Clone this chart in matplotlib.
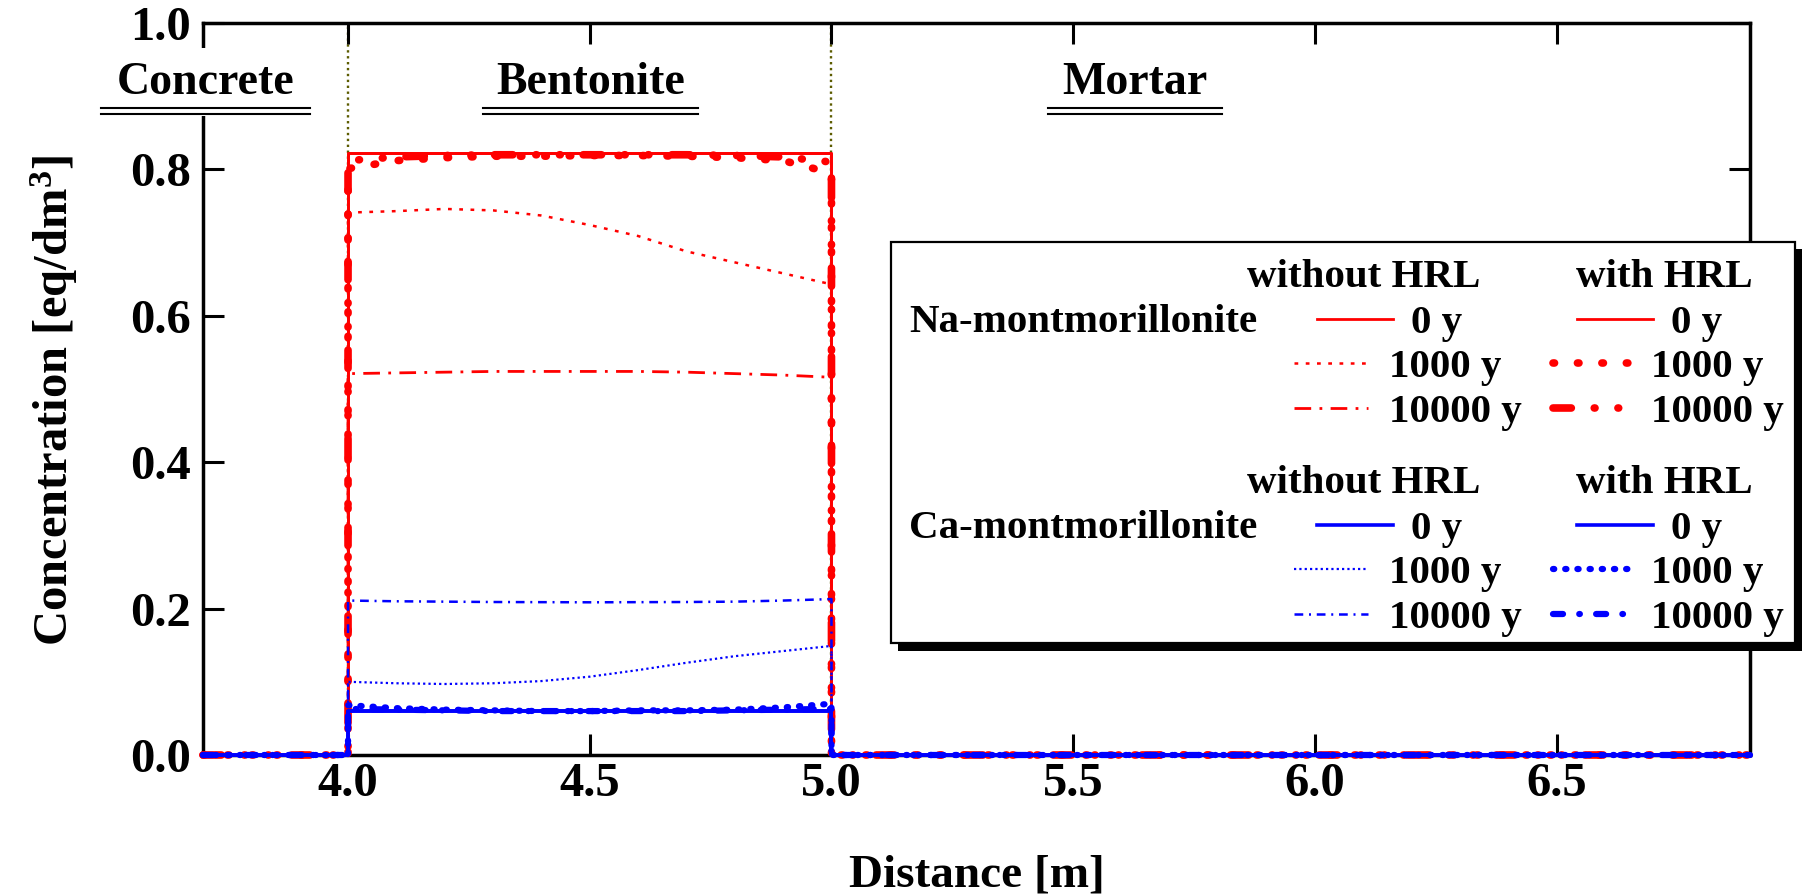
import matplotlib
matplotlib.use("Agg")
import matplotlib.pyplot as plt
from matplotlib.patches import Rectangle

plt.rcParams["font.family"] = ["Liberation Serif", "DejaVu Serif"]
plt.rcParams["font.weight"] = "bold"
plt.rcParams["axes.labelweight"] = "bold"
plt.rcParams["mathtext.fontset"] = "custom"
plt.rcParams["mathtext.rm"] = "Liberation Serif:bold"
plt.rcParams["mathtext.bf"] = "Liberation Serif:bold"
plt.rcParams["mathtext.it"] = "Liberation Serif:bold:italic"

W, H = 1802, 896

# ---- data -------------------------------------------------------------
X_MIN, X_MAX = 3.7, 6.9
BENT_X = [4.0, 4.1, 4.2, 4.3, 4.4, 4.5, 4.6, 4.7, 4.8, 4.9, 5.0]

# Na-montmorillonite, without HRL
NA_0Y = [0.822, 0.822, 0.822, 0.822, 0.822, 0.822, 0.822, 0.822, 0.822, 0.822, 0.822]
NA_1000Y = [0.741, 0.743, 0.746, 0.744, 0.737, 0.724, 0.709, 0.688, 0.673, 0.658, 0.643]
NA_10000Y = [0.521, 0.522, 0.523, 0.524, 0.524, 0.524, 0.524, 0.523, 0.521, 0.519, 0.516]
# Na-montmorillonite, with HRL
NA_HRL_0Y = [0.822, 0.822, 0.822, 0.822, 0.822, 0.822, 0.822, 0.822, 0.822, 0.822, 0.822]
NA_HRL_1000Y = [0.801, 0.812, 0.816, 0.818, 0.818, 0.819, 0.819, 0.818, 0.816, 0.812, 0.795]
NA_HRL_10000Y = [0.812, 0.817, 0.819, 0.820, 0.820, 0.820, 0.820, 0.820, 0.819, 0.817, 0.810]

# Ca-montmorillonite, without HRL
CA_0Y = [0.060, 0.060, 0.060, 0.060, 0.060, 0.060, 0.060, 0.060, 0.060, 0.060, 0.060]
CA_1000Y = [0.100, 0.098, 0.097, 0.098, 0.101, 0.107, 0.116, 0.126, 0.135, 0.142, 0.149]
CA_10000Y = [0.211, 0.210, 0.2095, 0.209, 0.2088, 0.2086, 0.2088, 0.209, 0.2095, 0.211, 0.213]
# Ca-montmorillonite, with HRL
CA_HRL_0Y = [0.060, 0.060, 0.060, 0.060, 0.060, 0.060, 0.060, 0.060, 0.060, 0.060, 0.060]
CA_HRL_1000Y = [0.068, 0.064, 0.062, 0.061, 0.060, 0.060, 0.061, 0.061, 0.062, 0.065, 0.070]
CA_HRL_10000Y = [0.063, 0.062, 0.061, 0.060, 0.060, 0.060, 0.060, 0.060, 0.061, 0.062, 0.063]

MINERALS = ["Na-montmorillonite", "Ca-montmorillonite"]
HRL_HEADERS = ["without HRL", "with HRL"]
AGES = ["0 y", "1000 y", "10000 y"]
LAYERS = ["Concrete", "Bentonite", "Mortar"]
LAYER_BOUNDS = [4.0, 5.0]
X_TICKS = [4.0, 4.5, 5.0, 5.5, 6.0, 6.5]
Y_TICKS = [0.0, 0.2, 0.4, 0.6, 0.8, 1.0]

SERIES = {
    ("Na", 0): [NA_0Y, NA_1000Y, NA_10000Y],
    ("Na", 1): [NA_HRL_0Y, NA_HRL_1000Y, NA_HRL_10000Y],
    ("Ca", 0): [CA_0Y, CA_1000Y, CA_10000Y],
    ("Ca", 1): [CA_HRL_0Y, CA_HRL_1000Y, CA_HRL_10000Y],
}

# ---- line styles ---------------------------------------------------------
RED, BLUE = "#ff0000", "#0000ff"
STYLE = {
    ("Na", 0): [dict(ls="-", lw=2.0),
                dict(ls=(0, (1.5, 3.0)), lw=1.8),
                dict(ls=(0, (6, 3, 1, 3)), lw=2.0)],
    ("Na", 1): [dict(ls="-", lw=2.0),
                dict(ls=(0, (0.2, 3.0)), lw=5.5, dash_capstyle="round"),
                dict(ls=(0, (2.4, 3.0, 0.1, 3.0, 0.1, 3.0)), lw=5.5,
                     dash_capstyle="round")],
    ("Ca", 0): [dict(ls="-", lw=2.6),
                dict(ls=(0, (1.0, 1.4)), lw=1.6),
                dict(ls=(0, (3.5, 2.3, 0.8, 2.3)), lw=1.8)],
    ("Ca", 1): [dict(ls="-", lw=2.6),
                dict(ls=(0, (0.2, 1.75)), lw=4.5, dash_capstyle="round"),
                dict(ls=(0, (1.6, 2.6, 0.1, 2.6)), lw=4.5, dash_capstyle="round")],
}
COLOR = {"Na": RED, "Ca": BLUE}


def profile(vals):
    x = [X_MIN, BENT_X[0]] + BENT_X + [BENT_X[-1], X_MAX]
    y = [0.0, 0.0] + list(vals) + [0.0, 0.0]
    return x, y


fig = plt.figure(figsize=(W / 100, H / 100), dpi=100)
ax = fig.add_axes([203 / W, 1 - 755 / H, 1547 / W, 732 / H])

# layer boundaries
for xb in LAYER_BOUNDS:
    ax.axvline(xb, color="#5c5c00", ls=(0, (1, 1.5)), lw=1.7, zorder=1)

for key in [("Na", 0), ("Na", 1), ("Ca", 0), ("Ca", 1)]:
    for vals, st in zip(SERIES[key], STYLE[key]):
        x, y = profile(vals)
        ax.plot(x, y, color=COLOR[key[0]], clip_on=False, zorder=3, **st)

ax.set_xlim(X_MIN, X_MAX)
ax.set_ylim(0, 1.0)
ax.set_xticks(X_TICKS)
ax.set_xticklabels([f"{v:.1f}" for v in X_TICKS])
ax.set_yticks(Y_TICKS)
ax.set_yticklabels([f"{v:.1f}" for v in Y_TICKS])
ax.tick_params(direction="in", length=15, width=2.2, top=True, right=True,
               labelsize=35)
ax.tick_params(axis="x", pad=5)
ax.tick_params(axis="y", pad=9)
for sp in ax.spines.values():
    sp.set_linewidth(2.5)

ax.set_xlabel("Distance [m]", fontsize=34, va="center")
ax.xaxis.set_label_coords(0.5, -0.1653)
ax.set_ylabel(r"Concentration [eq/dm$^{3}$]", fontsize=35, va="center")
ax.yaxis.set_label_coords(-0.096, 0.4836)

# ---- overlay in pixel coordinates for labels and legend -----------------
ov = fig.add_axes([0, 0, 1, 1], zorder=5)
ov.set_xlim(0, W)
ov.set_ylim(H, 0)
ov.axis("off")

# layer names with double underline
layer_boxes = [(101, 310), (483, 698), (1048, 1222)]
for name, (x0, x1) in zip(LAYERS, layer_boxes):
    ov.add_patch(Rectangle((x0, 48), x1 - x0, 68, facecolor="white",
                           edgecolor="none", zorder=1))
    ov.text((x0 + x1) / 2, 94, name, ha="center", va="baseline", fontsize=33,
            zorder=2)
    for yy in (108, 114):
        ov.plot([x0, x1], [yy, yy], color="black", lw=1.5, zorder=2)

# legend box with shadow
ov.add_patch(Rectangle((898, 249), 904, 402, facecolor="black",
                       edgecolor="none", zorder=1))
ov.add_patch(Rectangle((891, 242), 904, 401, facecolor="white",
                       edgecolor="black", lw=1.6, zorder=2))

header_x = [1363.5, 1664.5]
line_x = [[(1317, 1393), (1294, 1368), (1294, 1368)],
          [(1577, 1653), (1553, 1630), (1553, 1630)]]
text_x = [[1411, 1389, 1389], [1671, 1651, 1651]]
row_dy = [32, 76, 121]
for gi, (mkey, mname) in enumerate(zip(["Na", "Ca"], MINERALS)):
    base = 287 + gi * 206
    for ci, head in enumerate(HRL_HEADERS):
        ov.text(header_x[ci], base, head, ha="center", va="baseline",
                fontsize=29.5, zorder=3)
    ov.text(909, base + 45, mname, ha="left", va="baseline", fontsize=29.5,
            zorder=3)
    for ci in range(2):
        for ri, age in enumerate(AGES):
            yl = base + row_dy[ri]
            x0, x1 = line_x[ci][ri]
            ov.plot([x0, x1], [yl, yl], color=COLOR[mkey], zorder=3,
                    **STYLE[(mkey, ci)][ri])
            ov.text(text_x[ci][ri], yl + 14, age, ha="left", va="baseline",
                    fontsize=29.5, zorder=3)

fig.savefig("out.png", dpi=100)
